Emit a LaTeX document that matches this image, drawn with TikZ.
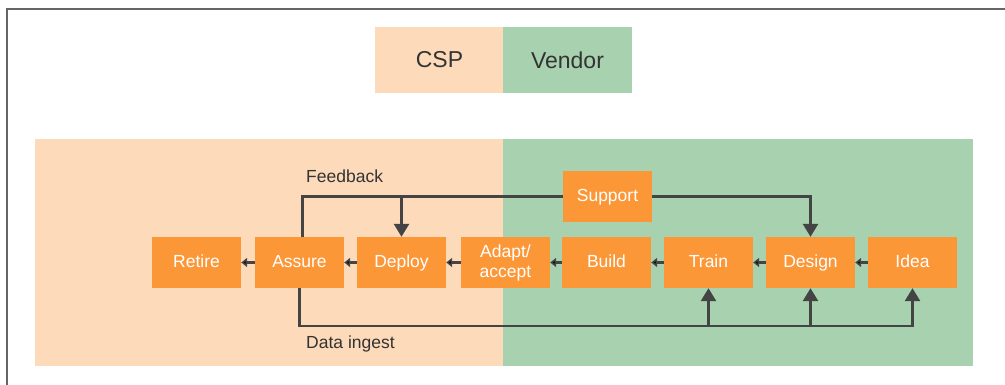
\documentclass[tikz,border=0pt]{standalone}
\usepackage{fontspec}
\setmainfont{Liberation Sans}
\usetikzlibrary{arrows.meta}

\definecolor{cspbg}{HTML}{FDDAB9}
\definecolor{vendorbg}{HTML}{A8D2AF}
\definecolor{boxorange}{HTML}{FC9738}
\definecolor{linegray}{HTML}{444444}
\definecolor{framegray}{HTML}{666666}
\definecolor{labelgray}{HTML}{333333}

\tikzset{
  stage/.style={fill=boxorange, text=white, minimum width=89pt, minimum height=51pt,
    inner sep=0pt, align=center, font=\fontsize{17.5}{20}\selectfont},
  oneline/.style={text height=12.5pt, text depth=3.5pt},
  legend/.style={minimum height=66pt, inner sep=0pt,
    text=labelgray, font=\fontsize{23}{25}\selectfont},
  flow/.style={line width=2.7pt, draw=linegray},
  bigtip/.style={-{Triangle[width=15pt,length=13pt]}},
  smalltip/.style={-{Triangle[width=9pt,length=6pt]}},
  tag/.style={anchor=west, inner sep=0pt, text=labelgray, font=\fontsize{17.5}{19}\selectfont}
}

\begin{document}
\begin{tikzpicture}[x=1pt,y=-1pt]
\useasboundingbox (0,0) rectangle (1005,385);
% frame and background panels
\draw[framegray, line width=2pt] (7,385) -- (7,9) -- (1005,9);
\fill[cspbg] (35,139) rectangle (503.5,366);
\fill[vendorbg] (503,139) rectangle (973,366);
% legend
\node[legend, fill=cspbg, minimum width=129pt] (csp) at (439.5,60) {CSP};
\node[legend, fill=vendorbg, minimum width=129pt] (vendor) at (567.5,60) {Vendor};
% stages
\node[stage, oneline] (retire) at (196.5,262.5) {Retire};
\node[stage, oneline] (assure) at (299.5,262.5) {Assure};
\node[stage, oneline] (deploy) at (401.5,262.5) {Deploy};
\node[stage] (adapt) at (505.5,262.5) {Adapt/\\accept};
\node[stage, oneline] (build) at (606.5,262.5) {Build};
\node[stage, oneline] (train) at (708.5,262.5) {Train};
\node[stage, oneline] (design) at (810.5,262.5) {Design};
\node[stage, oneline] (idea) at (912.5,262.5) {Idea};
\node[stage, oneline] (support) at (607.5,196.5) {Support};
% chain
\path [flow, smalltip] (assure) edge (retire);
\path [flow, smalltip] (deploy) edge (assure);
\path [flow, smalltip] (adapt) edge (deploy);
\path [flow, smalltip] (build) edge (adapt);
\path [flow, smalltip] (train) edge (build);
\path [flow, smalltip] (design) edge (train);
\path [flow, smalltip] (idea) edge (design);
% feedback loop
\coordinate (fbk) at (deploy.north |- support.west);
\draw[flow] ([xshift=3pt]assure.north) |- (support.west);
\draw[flow, bigtip] (fbk) -- (deploy.north);
\draw[flow, bigtip] (support.east) -| (design.north);
\node[tag] (feedback) at (306,176) {Feedback};
% data ingest
\coordinate (din) at (299.5,326);
\coordinate (dtrain) at (train.south |- din);
\coordinate (ddesign) at (design.south |- din);
\draw[flow, bigtip] (assure.south) -- (din) -| (idea.south);
\draw[flow, bigtip] (dtrain) -- (train.south);
\draw[flow, bigtip] (ddesign) -- (design.south);
\node[tag] (ingest) at (306,344) {Data ingest};
\end{tikzpicture}
\end{document}
